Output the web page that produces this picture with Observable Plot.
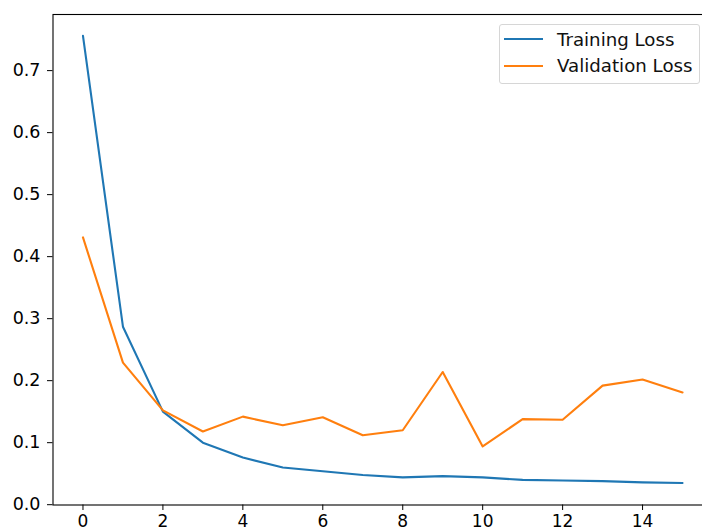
<!DOCTYPE html>
<html>
<head>
<meta charset="utf-8">
<script src="https://cdn.jsdelivr.net/npm/d3@7"></script>
<script src="https://cdn.jsdelivr.net/npm/@observablehq/plot@0.6"></script>
<style>
  html, body { margin: 0; padding: 0; background: #fff; overflow: hidden; }
  #wrap { position: relative; width: 702px; height: 531px; overflow: hidden; }
  #wrap svg { max-width: none !important; position: absolute; left: 0; top: 0; }
  .legend {
    position: absolute; left: 499px; top: 24px; width: 201px; height: 60px;
    box-sizing: border-box; border: 1px solid #d6d6d6; border-radius: 3px;
    background: rgba(255,255,255,0.8);
    font-family: "DejaVu Sans", sans-serif; font-size: 18.2px; line-height: 21px; color: #111;
  }
  .legend .sw { position: absolute; left: 4px; width: 39px; height: 2px; }
  .legend .lbl { position: absolute; left: 57px; white-space: nowrap; }
</style>
</head>
<body>
<div id="wrap"></div>
<script>
// Loss per epoch
const epochs = [0, 1, 2, 3, 4, 5, 6, 7, 8, 9, 10, 11, 12, 13, 14, 15];
const trainingLoss = [0.756, 0.287, 0.150, 0.100, 0.076, 0.060, 0.054, 0.048, 0.044, 0.046, 0.044, 0.040, 0.039, 0.038, 0.036, 0.035];
const validationLoss = [0.431, 0.229, 0.152, 0.118, 0.142, 0.128, 0.141, 0.112, 0.120, 0.214, 0.094, 0.138, 0.137, 0.192, 0.202, 0.181];
const seriesNames = ["Training Loss", "Validation Loss"];
const seriesColors = ["#1f77b4", "#ff7f0e"];
const xTicks = [0, 2, 4, 6, 8, 10, 12, 14];
const yTicks = [0.0, 0.1, 0.2, 0.3, 0.4, 0.5, 0.6, 0.7];

const rows = [];
epochs.forEach((e, i) => {
  rows.push({epoch: e, loss: trainingLoss[i], series: seriesNames[0]});
  rows.push({epoch: e, loss: validationLoss[i], series: seriesNames[1]});
});

const chart = Plot.plot({
  width: 713,
  height: 531,
  marginLeft: 52.5,
  marginRight: 1,
  marginTop: 14,
  marginBottom: 26.5,
  style: {fontFamily: "DejaVu Sans, sans-serif", fontSize: "17.5px", color: "#000", background: "#fff"},
  x: {domain: [-0.75, 15.75], ticks: xTicks, tickFormat: d => String(d)},
  y: {domain: [-0.0005, 0.7905], ticks: yTicks, tickFormat: d => d.toFixed(1)},
  color: {domain: seriesNames, range: seriesColors},
  marks: [
    Plot.line(rows, {x: "epoch", y: "loss", z: "series", stroke: "series", strokeWidth: 2.1, curve: "linear"}),
    Plot.frame({stroke: "#000", strokeWidth: 1.1}),
    Plot.axisX({ticks: xTicks, tickSize: 5.5, tickPadding: 4, label: null, fontSize: "17px"}),
    Plot.axisY({ticks: yTicks, tickSize: 5.5, tickPadding: 7, label: null, fontSize: "17.5px", tickFormat: d => d.toFixed(1)})
  ]
});

const wrap = document.getElementById("wrap");
wrap.appendChild(chart);

// Legend box in the upper right of the plot area
const legend = document.createElement("div");
legend.className = "legend";
seriesNames.forEach((name, i) => {
  const sw = document.createElement("span");
  sw.className = "sw";
  sw.style.top = (i === 0 ? 12.7 : 40) + "px";
  sw.style.background = seriesColors[i];
  const label = document.createElement("span");
  label.className = "lbl";
  label.style.top = (i === 0 ? 3.5 : 29.5) + "px";
  label.textContent = name;
  legend.appendChild(sw);
  legend.appendChild(label);
});
wrap.appendChild(legend);
</script>
</body>
</html>
